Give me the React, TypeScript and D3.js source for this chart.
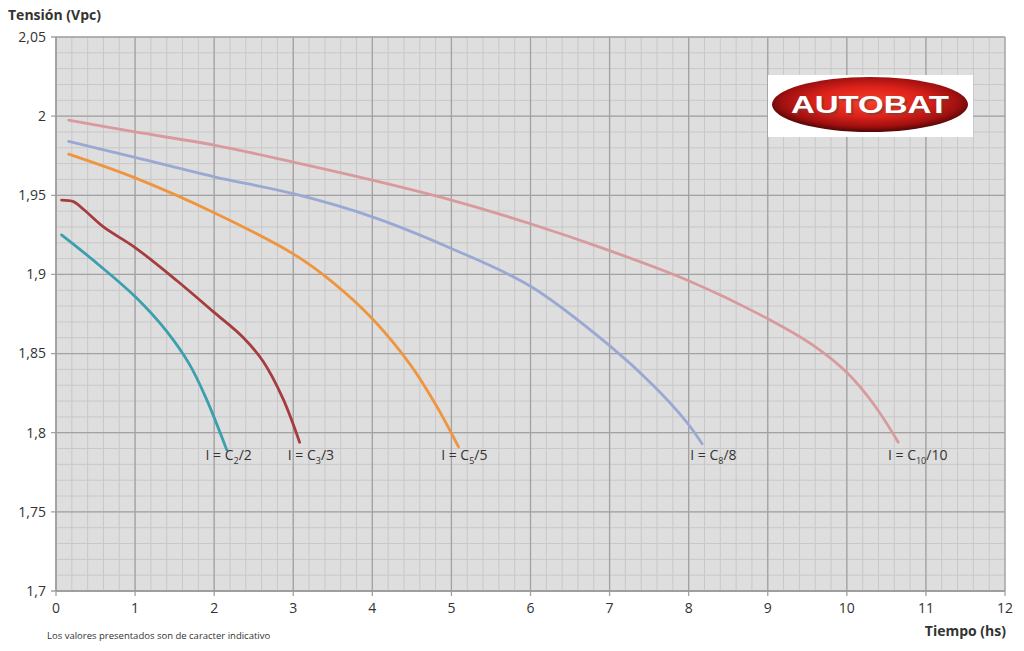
import React from "react";
import * as d3 from "d3";

const xTicks = [0, 1, 2, 3, 4, 5, 6, 7, 8, 9, 10, 11, 12];
const yTicks = [1.7, 1.75, 1.8, 1.85, 1.9, 1.95, 2.0, 2.05];
const yTickLabels = ["1,7", "1,75", "1,8", "1,85", "1,9", "1,95", "2", "2,05"];

const c2Time = [0.07, 0.47, 1.0, 1.4, 1.69, 1.9, 2.16];
const c2Volt = [1.925, 1.909, 1.886, 1.864, 1.843, 1.8215, 1.789];

const c3Time = [0.07, 0.22, 0.35, 0.6, 1.0, 1.53, 2.0, 2.37, 2.62, 2.87, 3.08];
const c3Volt = [1.947, 1.946, 1.941, 1.930, 1.917, 1.896, 1.876, 1.860, 1.845, 1.8215, 1.794];

const c5Time = [0.16, 1.0, 2.0, 3.0, 3.5, 4.0, 4.48, 4.81, 5.09];
const c5Volt = [1.976, 1.961, 1.939, 1.913, 1.895, 1.872, 1.843, 1.817, 1.791];

const c8Time = [0.16, 1.0, 2.0, 3.0, 4.0, 5.0, 6.0, 7.0, 7.55, 7.97, 8.17];
const c8Volt = [1.984, 1.974, 1.9617, 1.951, 1.9364, 1.9164, 1.8925, 1.855, 1.83, 1.807, 1.793];

const c10Time = [0.16, 1.0, 2.0, 3.0, 4.0, 5.0, 6.0, 7.0, 8.0, 9.0, 9.58, 10.0, 10.34, 10.65];
const c10Volt = [1.9975, 1.99, 1.9817, 1.971, 1.9596, 1.947, 1.932, 1.915, 1.896, 1.872, 1.855, 1.838, 1.818, 1.794];

const seriesNames = ["C2", "C3", "C5", "C8", "C10"];
const seriesSub = ["2", "3", "5", "8", "10"];
const seriesDiv = ["/2", "/3", "/5", "/8", "/10"];
const seriesColors = ["#3d9fae", "#a53d3f", "#ef9540", "#9aa9d3", "#d99a9e"];
const labelTime = [1.89, 2.93, 4.87, 8.02, 10.52];
const labelVolt = [1.7825, 1.7825, 1.7825, 1.7825, 1.7825];

const seriesTime = [c2Time, c3Time, c5Time, c8Time, c10Time];
const seriesVolt = [c2Volt, c3Volt, c5Volt, c8Volt, c10Volt];

export default function App() {
  const W = 1024, H = 651;
  const left = 56, right = 1005, top = 37, bottom = 591;
  const x = d3.scaleLinear().domain([0, 12]).range([left, right]);
  const y = d3.scaleLinear().domain([1.7, 2.05]).range([bottom, top]);

  const minorX = d3.range(0, 12.0001, 0.2);
  const minorY = d3.range(1.7, 2.0501, 0.01);

  const line = d3
    .line<[number, number]>()
    .x((d) => x(d[0]))
    .y((d) => y(d[1]))
    .curve(d3.curveCatmullRom.alpha(0.5));

  const font = "'Open Sans', 'Noto Sans', sans-serif";

  return (
    <svg
      width={W}
      height={H}
      style={{ position: "absolute", left: 0, top: 0, background: "#fff" }}
      fontFamily={font}
    >
      <defs>
        <radialGradient id="logoGrad" cx="50%" cy="45%" r="55%">
          <stop offset="0%" stopColor="#f5402a" />
          <stop offset="50%" stopColor="#dc221a" />
          <stop offset="82%" stopColor="#a01010" />
          <stop offset="100%" stopColor="#4e0606" />
        </radialGradient>
      </defs>
      <rect x={left} y={top} width={right - left} height={bottom - top} fill="#dedede" />
      {minorX.map((v, i) => (
        <line key={"mx" + i} x1={x(v)} x2={x(v)} y1={top} y2={bottom} stroke="#c8c8c8" strokeWidth={1} />
      ))}
      {minorY.map((v, i) => (
        <line key={"my" + i} x1={left} x2={right} y1={y(v)} y2={y(v)} stroke="#c8c8c8" strokeWidth={1} />
      ))}
      {xTicks.map((v) => (
        <line key={"MX" + v} x1={x(v)} x2={x(v)} y1={top} y2={bottom + 5} stroke="#a2a2a2" strokeWidth={1.3} />
      ))}
      {yTicks.map((v) => (
        <line key={"MY" + v} x1={left - 5} x2={right} y1={y(v)} y2={y(v)} stroke="#a2a2a2" strokeWidth={1.3} />
      ))}
      <line x1={left} x2={left} y1={top} y2={bottom} stroke="#999" strokeWidth={1.3} />
      <line x1={left} x2={right} y1={bottom} y2={bottom} stroke="#999" strokeWidth={1.3} />

      {yTicks.map((v, i) => (
        <text key={"yl" + v} x={left - 10} y={y(v)} dy="0.35em" textAnchor="end" fontSize={14} fill="#333">
          {yTickLabels[i]}
        </text>
      ))}
      {xTicks.map((v) => (
        <text key={"xl" + v} x={x(v)} y={bottom + 22} textAnchor="middle" fontSize={14} fill="#333">
          {v}
        </text>
      ))}
      <text x={8} y={20} fontSize={14} fontWeight="bold" fill="#333">Tensión (Vpc)</text>
      <text x={1006} y={636} fontSize={14} fontWeight="bold" textAnchor="end" fill="#333">Tiempo (hs)</text>
      <text x={47} y={639} fontSize={9.5} fill="#333">Los valores presentados son de caracter indicativo</text>

      {seriesNames.map((n, i) => {
        const pts = seriesTime[i].map((t, j) => [t, seriesVolt[i][j]] as [number, number]);
        return (
          <path key={n} d={line(pts) || ""} fill="none" stroke={seriesColors[i]} strokeWidth={2.8} strokeLinecap="round" />
        );
      })}

      {seriesNames.map((n, i) => (
        <text key={"lab" + n} x={x(labelTime[i])} y={y(labelVolt[i])} fontSize={14} fill="#333">
          {"I = C"}
          <tspan fontSize={9} dy={4}>{seriesSub[i]}</tspan>
          <tspan dy={-4}>{seriesDiv[i]}</tspan>
        </text>
      ))}

      <g>
        <rect x={768} y={75} width={205} height={62} fill="#ffffff" />
        <ellipse cx={870} cy={104.5} rx={98} ry={27.5} fill="url(#logoGrad)" />
        <text x={872} y={115} textAnchor="middle" fontSize={23} fontWeight="bold" fill="#6a4040"
          fontFamily="'Liberation Sans', Arial, sans-serif" opacity={0.55}
          textLength={158} lengthAdjust="spacingAndGlyphs">AUTOBAT</text>
        <text x={870} y={113} textAnchor="middle" fontSize={23} fontWeight="bold" fill="#fff"
          fontFamily="'Liberation Sans', Arial, sans-serif"
          textLength={158} lengthAdjust="spacingAndGlyphs">AUTOBAT</text>
      </g>
    </svg>
  );
}
